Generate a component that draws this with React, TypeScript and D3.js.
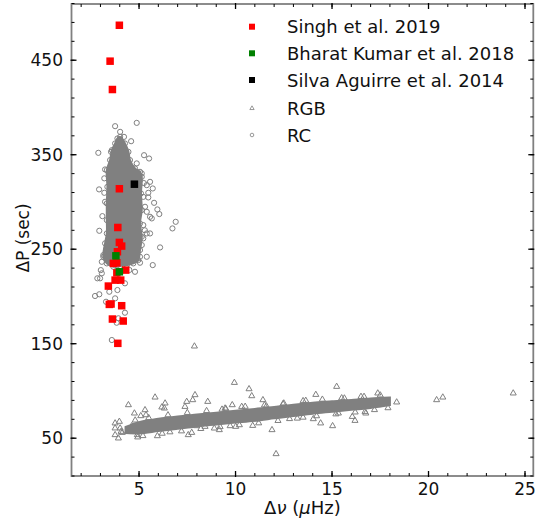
import React from "react";
import * as d3 from "d3";

// ---------- data ----------
const singhDnu = [3.98, 3.5, 3.62, 3.98, 3.9, 3.98, 4.1, 3.88, 3.67, 3.85, 3.85, 4.31, 3.76, 4.05, 3.41, 3.46, 3.55, 4.1, 3.62, 4.18, 3.9];
const singhDP = [487, 449, 419, 314, 273, 257.2, 253.3, 247.3, 235, 235.6, 225, 227.9, 217.3, 217.3, 211, 191.6, 192, 190.2, 176.1, 174, 150.4];
const bharatDnu = [3.8, 3.98];
const bharatDP = [243, 226.1];
const silvaDnu = [4.76];
const silvaDP = [318.8];

// dense RC core envelope (Δν, ΔP)
const rcCoreDnu = [4.02, 4.27, 4.45, 4.53, 4.79, 5.05, 5.14, 5.1, 5.14, 5.05, 5.14, 5.05, 4.96, 4.7, 4.36, 4.02, 3.67, 3.33, 3.15, 3.24, 3.33, 3.33, 3.33, 3.36, 3.33, 3.5, 3.59, 3.76, 3.88];
const rcCoreDP = [368.9, 361.9, 353.0, 344.3, 335.5, 331.9, 326.6, 309.0, 291.4, 277.3, 263.2, 249.1, 238.5, 235.0, 233.2, 232.2, 231.4, 235.0, 242.0, 256.2, 266.7, 280.8, 298.5, 316.0, 333.7, 344.3, 354.8, 361.9, 367.2];

// RC scattered stars
const rcDnu = [3.76, 4.88, 4.02, 4.22, 4.59, 2.89, 3.55, 5.26, 5.52, 4.88, 5.14, 3.24, 5.57, 5.4, 5.71, 2.93, 5.48, 5.22, 5.48, 5.78, 5.31, 5.95, 5.4, 5.57, 6.05, 5.66, 6.9, 6.73, 5.22, 5.4, 5.57, 2.94, 3.24, 3.2, 5.22, 6.09, 5.14, 5.05, 5.4, 5.71, 5.05, 4.79, 3.15, 3.07, 3.02, 3.07, 2.84, 2.98, 4.27, 3.46, 3.88, 2.72, 2.94, 3.76, 3.29, 4.27, 3.93, 3.84, 3.59, 3.1, 3.2, 5.3, 5.25, 3.3, 4.5];
const rcDP = [380.2, 383.7, 374.2, 368.9, 364.3, 352.0, 353.0, 349.5, 346.0, 340.8, 330.2, 334.4, 321.3, 317.8, 314.3, 313.3, 309.7, 305.4, 304.8, 299.1, 294.9, 292.1, 289.6, 284.3, 287.2, 282.6, 279.0, 272.0, 275.5, 266.7, 266.7, 269.5, 300.2, 309.7, 261.5, 251.9, 254.4, 242.0, 242.0, 233.2, 235.7, 226.1, 243.8, 236.7, 227.9, 224.5, 219.2, 219.2, 213.9, 205.0, 206.8, 200.5, 202.3, 198.0, 194.4, 182.8, 176.9, 172.2, 153.9, 285.0, 325.0, 270.0, 320.0, 250.0, 228.0];

// dense RGB band envelope
const rgbBandDnu = [4.3, 5, 6, 7, 8, 9, 10, 11, 12, 13, 14, 15, 16, 17, 18];
const rgbBandTop = [62, 67, 70.5, 73, 75, 77, 79, 81, 83, 85.5, 87.5, 89, 90.5, 92, 93];
const rgbBandBottom = [55.5, 55, 57.5, 60, 62.5, 64.5, 66.5, 68.5, 71, 73.5, 76, 78, 80, 82, 85];

// RGB scattered stars
const rgbDnu = [4.45, 4.76, 5.31, 5.83, 3.76, 3.98, 3.76, 4.02, 4.07, 3.76, 3.93, 4.13, 4.91, 4.93, 5.95, 4.88, 6.18, 6.35, 6.31, 7.47, 7.38, 7.78, 7.9, 8.56, 7.55, 7.73, 7.99, 8.42, 9.16, 9.94, 10.7, 10.84, 9.46, 9.83, 10.32, 9.72, 10.01, 10.89, 11.1, 5.57, 5.09, 5.36, 4.62, 15.24, 14.16, 13.64, 15.64, 16.66, 17.37, 14.03, 14.41, 15.03, 14.72, 15.33, 16.05, 16.19, 16.71, 16.75, 17.4, 18.35, 20.42, 20.74, 24.39, 7.87, 12.1, 11.42, 12.46, 11.89, 6.6, 8.9, 12.8, 13.5, 9.3, 11.6,
  4.8, 5.5, 6.5, 7.5, 8.5, 9.5, 10.5, 11.5, 12.5, 13.5, 14.5, 15.5, 16.5, 17.5,
  5.2, 6.2, 7.2, 8.2, 9.2, 10.2, 11.2, 12.2, 13.2, 14.2, 15.2, 16.2, 17.2, 17.9];
const rgbDP = [85.2, 76.4, 79.9, 93.3, 65.9, 67.6, 60.6, 60.6, 57.0, 53.5, 50.0, 55.9, 53.5, 51.1, 52.4, 57.0, 82.8, 87.0, 81.7, 88.7, 83.4, 90.5, 95.8, 88.7, 53.5, 55.9, 63.0, 62.3, 58.8, 108.8, 102.1, 94.7, 81.7, 85.2, 83.4, 63.0, 62.3, 63.3, 70.1, 64.1, 73.6, 74.6, 63.0, 104.6, 96.1, 89.8, 92.3, 94.0, 97.6, 70.4, 65.9, 63.0, 79.2, 76.4, 72.8, 68.6, 78.1, 76.4, 85.2, 88.1, 90.5, 93.3, 97.6, 147.3, 33.4, 90.5, 86.3, 58.8, 56.5, 60.5, 70.5, 72.0, 80.5, 84.0,
  69, 71.5, 74.5, 77, 79, 81, 83.5, 85, 87, 89.5, 91, 92.5, 94, 95.5,
  52.5, 55, 57.5, 60, 62, 64, 66, 68.5, 71, 73.5, 75.5, 77.5, 80, 82];

const xMajor = [5, 10, 15, 20, 25];
const yMajor = [50, 150, 250, 350, 450];
const xMinor = d3.range(2, 26, 1);
const yMinor = d3.range(10, 511, 20);

const legendLabels = ["Singh et al. 2019", "Bharat Kumar et al. 2018", "Silva Aguirre et al. 2014", "RGB", "RC"];

// ---------- layout ----------
const W = 542, H = 521;
const L = 71.5, R = 533.3, T = 4, B = 476;
const GRAY = "#808080";
const FONT = "DejaVu Sans, sans-serif";

export default function App() {
  const x = d3.scaleLinear().domain([1.5, 25.43]).range([L, R]);
  const y = d3.scaleLinear().domain([10, 509.5]).range([B, T]);

  const rcCorePath = d3.line<number>().x((_, i) => x(rcCoreDnu[i])).y((_, i) => y(rcCoreDP[i])).curve(d3.curveCatmullRomClosed)(rcCoreDnu) || "";
  const rgbBandPath = d3.area<number>()
    .x((_, i) => x(rgbBandDnu[i]))
    .y0((_, i) => y(rgbBandBottom[i]))
    .y1((_, i) => y(rgbBandTop[i]))
    .curve(d3.curveMonotoneX)(rgbBandDnu) || "";

  const tri = d3.symbol(d3.symbolTriangle, 16)() || "";
  const triSmall = d3.symbol(d3.symbolTriangle, 8)() || "";
  const sq = 7.5;

  const legendY = [26.7, 53.3, 80, 108.3, 135];
  const lx = 252, tx = 287;

  return (
    <svg width={W} height={H} style={{ position: "absolute", left: 0, top: 0, background: "#fff" }} fontFamily={FONT}>
      <rect x={0} y={0} width={W} height={H} fill="#fff" />
      <defs>
        <clipPath id="plot"><rect x={L} y={T} width={R - L} height={B - T} /></clipPath>
      </defs>
      <g clipPath="url(#plot)">
        {/* RC */}
        {rcCoreDnu.map((v, i) => (
          <circle key={"rce" + i} cx={x(v)} cy={y(rcCoreDP[i])} r={2.6} fill="none" stroke={GRAY} strokeWidth={1} />
        ))}
        <path d={rcCorePath} fill={GRAY} stroke={GRAY} strokeWidth={2} />
        {rcDnu.map((v, i) => (
          <circle key={"rc" + i} cx={x(v)} cy={y(rcDP[i])} r={2.6} fill="none" stroke={GRAY} strokeWidth={1} />
        ))}
        {/* RGB */}
        <path d={rgbBandPath} fill={GRAY} stroke={GRAY} strokeWidth={2} />
        {rgbDnu.map((v, i) => (
          <path key={"rgb" + i} d={tri} transform={`translate(${x(v)},${y(rgbDP[i])})`} fill="none" stroke={GRAY} strokeWidth={1} />
        ))}
        {/* literature */}
        {singhDnu.map((v, i) => (
          <rect key={"s" + i} x={x(v) - sq / 2} y={y(singhDP[i]) - sq / 2} width={sq} height={sq} fill="#ff0000" />
        ))}
        {bharatDnu.map((v, i) => (
          <rect key={"b" + i} x={x(v) - sq / 2} y={y(bharatDP[i]) - sq / 2} width={sq} height={sq} fill="#008000" />
        ))}
        {silvaDnu.map((v, i) => (
          <rect key={"a" + i} x={x(v) - sq / 2} y={y(silvaDP[i]) - sq / 2} width={sq} height={sq} fill="#000000" />
        ))}
      </g>

      {/* frame */}
      <rect x={L} y={T} width={R - L} height={B - T} fill="none" stroke={GRAY} strokeWidth={1.8} />

      {/* ticks */}
      <g stroke="#000" strokeWidth={1}>
        {xMinor.map((v) => (
          <g key={"xm" + v}>
            <line x1={x(v)} x2={x(v)} y1={B} y2={B - 3} />
            <line x1={x(v)} x2={x(v)} y1={T} y2={T + 3} />
          </g>
        ))}
        {yMinor.map((v) => (
          <g key={"ym" + v}>
            <line x1={L} x2={L + 3} y1={y(v)} y2={y(v)} />
            <line x1={R} x2={R - 3} y1={y(v)} y2={y(v)} />
          </g>
        ))}
        {xMajor.map((v) => (
          <g key={"xM" + v}>
            <line x1={x(v)} x2={x(v)} y1={B + 1} y2={B - 5} strokeWidth={1.3} />
            <line x1={x(v)} x2={x(v)} y1={T - 1} y2={T + 5} strokeWidth={1.3} />
          </g>
        ))}
        {yMajor.map((v) => (
          <g key={"yM" + v}>
            <line x1={L - 1} x2={L + 5} y1={y(v)} y2={y(v)} strokeWidth={1.3} />
            <line x1={R + 1} x2={R - 5} y1={y(v)} y2={y(v)} strokeWidth={1.3} />
          </g>
        ))}
      </g>

      {/* tick labels */}
      <g fontSize={17} fill="#111">
        {xMajor.map((v) => (
          <text key={"xl" + v} x={x(v)} y={495} textAnchor="middle">{v}</text>
        ))}
        {yMajor.map((v) => (
          <text key={"yl" + v} x={63} y={y(v) + 6} textAnchor="end">{v}</text>
        ))}
      </g>

      {/* axis labels */}
      <text x={(L + R) / 2} y={514} textAnchor="middle" fontSize={18} fill="#111">
        Δ<tspan fontStyle="italic">ν</tspan> (<tspan fontStyle="italic">μ</tspan>Hz)
      </text>
      <text transform={`translate(29,${(T + B) / 2 - 2}) rotate(-90)`} textAnchor="middle" fontSize={17} fill="#111">
        ΔP (sec)
      </text>

      {/* legend */}
      <g fontSize={18} fill="#111">
        <rect x={lx - 3} y={legendY[0] - 3} width={6} height={6} fill="#ff0000" />
        <rect x={lx - 3} y={legendY[1] - 3} width={6} height={6} fill="#008000" />
        <rect x={lx - 3} y={legendY[2] - 3} width={6} height={6} fill="#000000" />
        <path d={triSmall} transform={`translate(${lx},${legendY[3]})`} fill="none" stroke={GRAY} strokeWidth={0.8} />
        <circle cx={lx} cy={legendY[4]} r={1.8} fill="none" stroke={GRAY} strokeWidth={0.8} />
        {legendLabels.map((t, i) => (
          <text key={t} x={tx} y={legendY[i] + 6.5}>{t}</text>
        ))}
      </g>
    </svg>
  );
}
